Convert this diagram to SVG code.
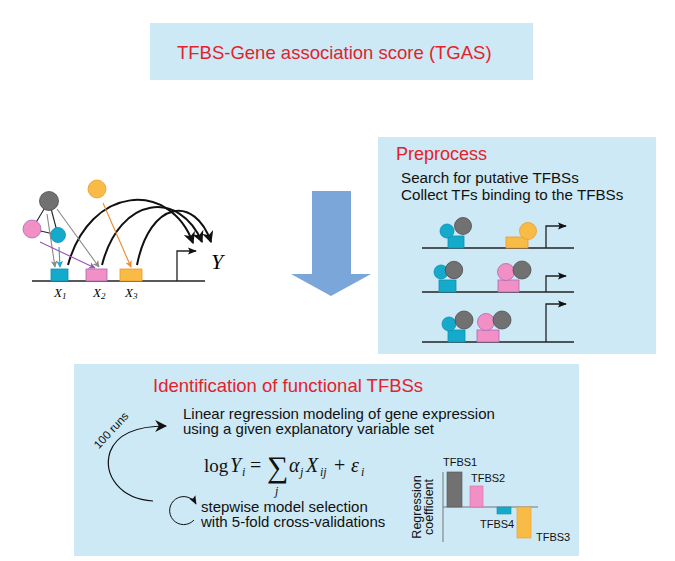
<svg xmlns="http://www.w3.org/2000/svg" width="675" height="561" viewBox="0 0 675 561">
<defs>
<style>
.box{fill:#cde9f6}
.sans{font-family:"Liberation Sans",Arial,sans-serif}
.serif{font-family:"Liberation Serif","Times New Roman",serif}
.red{fill:#e3222b}
.dna{stroke:#222;stroke-width:1.3;fill:none}
.cyan{fill:#14aacb;stroke:#0f8fb0;stroke-width:0.8}
.pink{fill:#f28fc4;stroke:#a46bb5;stroke-width:0.8}
.orange{fill:#f8bb45;stroke:#ee9a2c;stroke-width:0.8}
.gray{fill:#717171;stroke:#4d4d4d;stroke-width:0.8}
.thin{stroke-width:1.1;fill:none}
.sub{font-size:12px;font-style:italic}
</style>
<marker id="ahBig" viewBox="0 0 10 10" refX="9" refY="5" markerWidth="12" markerHeight="12" orient="auto" markerUnits="userSpaceOnUse"><path d="M0,0 L10,5 L0,10 L3,5 z" fill="#111"/></marker>
<marker id="ahProm" viewBox="0 0 10 10" refX="9" refY="5" markerWidth="9" markerHeight="9" orient="auto" markerUnits="userSpaceOnUse"><path d="M0,1 L10,5 L0,9 L2,5 z" fill="#111"/></marker>
<marker id="ahGray" viewBox="0 0 10 10" refX="9" refY="5" markerWidth="7" markerHeight="7" orient="auto" markerUnits="userSpaceOnUse"><path d="M0,0 L10,5 L0,10 L3,5 z" fill="#8a8a8a"/></marker>
<marker id="ahCyan" viewBox="0 0 10 10" refX="9" refY="5" markerWidth="7" markerHeight="7" orient="auto" markerUnits="userSpaceOnUse"><path d="M0,0 L10,5 L0,10 L3,5 z" fill="#14aacb"/></marker>
<marker id="ahPurple" viewBox="0 0 10 10" refX="9" refY="5" markerWidth="7" markerHeight="7" orient="auto" markerUnits="userSpaceOnUse"><path d="M0,0 L10,5 L0,10 L3,5 z" fill="#a052b3"/></marker>
<marker id="ahOrange" viewBox="0 0 10 10" refX="9" refY="5" markerWidth="7" markerHeight="7" orient="auto" markerUnits="userSpaceOnUse"><path d="M0,0 L10,5 L0,10 L3,5 z" fill="#f08a2e"/></marker>
</defs>
<rect width="675" height="561" fill="#fff"/>

<g id="title">
<rect class="box" x="150" y="23" width="383" height="57"/>
<text class="sans red" x="177" y="59" font-size="18.5">TFBS-Gene association score (TGAS)</text>
</g>

<g id="flow-arrow">
<polygon points="312,191 351,191 351,274 371,274 331,296 291,274 312,274" fill="#7ba6d9"/>
</g>

<g id="model-schematic">
<line class="dna" x1="32" y1="281" x2="205" y2="281"/>
<rect class="cyan" x="51" y="269" width="17" height="12"/>
<rect class="pink" x="86" y="269" width="21" height="12"/>
<rect class="orange" x="120" y="269" width="22" height="12"/>
<path d="M177,281 V251 H196" class="dna" marker-end="url(#ahProm)"/>
<text class="serif" x="211" y="269" font-size="22" font-style="italic">Y</text>
<text class="serif" font-style="italic" font-size="13" x="54" y="297">X<tspan font-size="9" dy="2">1</tspan></text>
<text class="serif" font-style="italic" font-size="13" x="93" y="297">X<tspan font-size="9" dy="2">2</tspan></text>
<text class="serif" font-style="italic" font-size="13" x="125" y="297">X<tspan font-size="9" dy="2">3</tspan></text>
<g stroke="#222" stroke-width="1.1">
<line x1="49" y1="201" x2="32" y2="229"/>
<line x1="49" y1="201" x2="58" y2="235"/>
<line x1="32" y1="229" x2="58" y2="235"/>
</g>
<circle class="gray" cx="49" cy="201" r="9.5"/>
<circle class="pink" cx="32" cy="229" r="9"/>
<circle class="cyan" cx="58" cy="235" r="7.5"/>
<circle class="orange" cx="97" cy="189" r="9"/>
</g>

<g id="preprocess">
<rect class="box" x="378" y="137" width="278" height="217"/>
<text class="sans red" x="396" y="160" font-size="18">Preprocess</text>
<text class="sans" x="401" y="183" font-size="15.2" fill="#111">Search for putative TFBSs</text>
<text class="sans" x="401" y="200" font-size="15.2" fill="#111">Collect TFs binding to the TFBSs</text>
<g id="row1">
<line class="dna" x1="422" y1="248" x2="574" y2="248"/>
<path d="M546,248 V226 H566" class="dna" marker-end="url(#ahProm)"/>
<rect class="cyan" x="448" y="236" width="16" height="12"/>
<circle class="cyan" cx="447" cy="231" r="7"/>
<circle class="gray" cx="463" cy="226" r="8.5"/>
<rect class="orange" x="506" y="237" width="22" height="11"/>
<circle class="orange" cx="528" cy="231" r="8.5"/>
</g>
<g id="row2">
<line class="dna" x1="422" y1="292" x2="574" y2="292"/>
<path d="M546,292 V276 H566" class="dna" marker-end="url(#ahProm)"/>
<rect class="cyan" x="439" y="280" width="17" height="12"/>
<circle class="cyan" cx="441" cy="272" r="7"/>
<circle class="gray" cx="454" cy="270" r="8.7"/>
<rect class="pink" x="498" y="280" width="21" height="12"/>
<circle class="pink" cx="506" cy="272" r="8.5"/>
<circle class="gray" cx="522" cy="270" r="9"/>
</g>
<g id="row3">
<line class="dna" x1="422" y1="342" x2="574" y2="342"/>
<path d="M546,342 V304 H566" class="dna" marker-end="url(#ahProm)"/>
<rect class="cyan" x="448" y="330" width="17" height="12"/>
<circle class="cyan" cx="449" cy="324" r="7"/>
<circle class="gray" cx="464" cy="320" r="9"/>
<rect class="pink" x="477" y="330" width="22" height="12"/>
<circle class="pink" cx="486" cy="322" r="8.5"/>
<circle class="gray" cx="502" cy="320" r="9"/>
</g>
</g>

<g id="identification">
<rect class="box" x="74" y="364" width="505" height="192"/>
<text class="sans red" x="153" y="392" font-size="18.5">Identification of functional TFBSs</text>
<text class="sans" x="183" y="419" font-size="15" fill="#111">Linear regression modeling of gene expression</text>
<text class="sans" x="183" y="434" font-size="15" fill="#111">using a given explanatory variable set</text>
<g id="equation" class="serif" fill="#111" font-size="20">
<text x="204" y="472" font-size="19">log</text>
<text x="230" y="472" font-style="italic">Y</text>
<text x="242" y="476" class="sub">i</text>
<text x="250" y="472">=</text>
<text x="267" y="477" font-size="30">∑</text>
<text x="275" y="495" class="sub">j</text>
<text x="289" y="472" font-style="italic">α</text>
<text x="300" y="476" class="sub">j</text>
<text x="306" y="472" font-style="italic">X</text>
<text x="320" y="476" class="sub">ij</text>
<text x="334" y="472">+</text>
<text x="351" y="472" font-style="italic">ε</text>
<text x="361" y="476" class="sub">i</text>
</g>
<text class="sans" x="201" y="512" font-size="15" fill="#111">stepwise model selection</text>
<text class="sans" x="201" y="527" font-size="15" fill="#111">with 5-fold cross-validations</text>
<text class="sans" x="114" y="433" font-size="11.5" fill="#111" text-anchor="middle" transform="rotate(-47 114 433)">100 runs</text>
<g id="chart">
<line x1="443" y1="472" x2="443" y2="542" stroke="#777" stroke-width="1"/>
<line x1="443" y1="507" x2="538" y2="507" stroke="#777" stroke-width="1"/>
<rect x="447" y="472" width="15" height="35" fill="#717171" stroke="#555" stroke-width="0.6"/>
<rect x="470" y="486" width="13" height="21" fill="#f28fc4" stroke="#d070a8" stroke-width="0.6"/>
<rect x="497" y="507" width="14" height="7" fill="#14aacb" stroke="#0f8fb0" stroke-width="0.6"/>
<rect x="517" y="507" width="14" height="31" fill="#f8bb45" stroke="#ee9a2c" stroke-width="0.6"/>
<g class="sans" font-size="11" fill="#111">
<text x="443" y="466">TFBS1</text>
<text x="471" y="482">TFBS2</text>
<text x="480" y="528">TFBS4</text>
<text x="536" y="541">TFBS3</text>
<text x="421" y="507" text-anchor="middle" font-size="12.5" transform="rotate(-90 421 507)">Regression</text>
<text x="433" y="507" text-anchor="middle" font-size="12.5" transform="rotate(-90 433 507)">coefficient</text>
</g>
</g>
</g>

<g id="connectors">
<path d="M68,265 C90,185 170,180 193,243" stroke="#111" stroke-width="2" fill="none" marker-end="url(#ahBig)"/>
<path d="M102,265 C120,195 180,190 202,242" stroke="#111" stroke-width="2" fill="none" marker-end="url(#ahBig)"/>
<path d="M137,265 C150,200 195,195 211,242" stroke="#111" stroke-width="2" fill="none" marker-end="url(#ahBig)"/>
<line x1="47" y1="214" x2="55" y2="267" class="thin" stroke="#8a8a8a" marker-end="url(#ahGray)"/>
<line x1="57" y1="209" x2="99" y2="267" class="thin" stroke="#8a8a8a" marker-end="url(#ahGray)"/>
<line x1="59" y1="247" x2="60" y2="267" class="thin" stroke="#14aacb" marker-end="url(#ahCyan)"/>
<line x1="40" y1="242" x2="95" y2="268" class="thin" stroke="#a052b3" marker-end="url(#ahPurple)"/>
<line x1="103" y1="203" x2="131" y2="267" class="thin" stroke="#f08a2e" marker-end="url(#ahOrange)"/>
<path d="M153,501 C120,499 103,475 110,452 C116,436 132,426 166,426" stroke="#111" stroke-width="1.2" fill="none" marker-end="url(#ahBig)"/>
<path d="M194,520 A14,14 0 1 1 196,504" stroke="#111" stroke-width="1" fill="none" marker-end="url(#ahProm)"/>
</g>
</svg>
